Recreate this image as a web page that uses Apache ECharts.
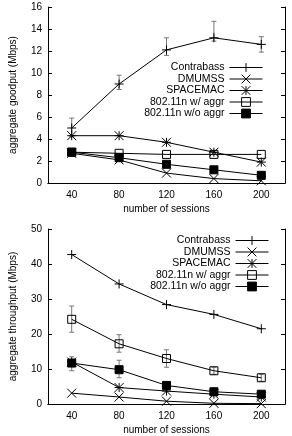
<!DOCTYPE html>
<html>
<head>
<meta charset="utf-8">
<script src="https://cdn.jsdelivr.net/npm/echarts@6/dist/echarts.min.js"></script>
<style>
  html, body { margin: 0; padding: 0; background: #fff; }
  #chart { width: 292px; height: 436px; }
</style>
</head>
<body>
<div id="chart"></div>
<script>
// sessions on the x axis
const sessions = ['40', '80', '120', '160', '200'];
const seriesNames = ['Contrabass', 'DMUMSS', 'SPACEMAC', '802.11n w/ aggr', '802.11n w/o aggr'];

// top: aggregate goodput (Mbps)
const goodContrabass = [5.0, 9.0, 12.1, 13.2, 12.6];
const goodDmumss = [2.7, 2.1, 0.9, 0.4, 0.2];
const goodSpacemac = [4.3, 4.3, 3.7, 2.8, 1.9];
const goodWithAggr = [2.8, 2.7, 2.6, 2.6, 2.6];
const goodWithoutAggr = [2.8, 2.3, 1.7, 1.2, 0.7];
const goodContrabassLow = [4.2, 8.5, 11.6, 12.9, 11.9];
const goodContrabassHigh = [5.9, 9.8, 13.2, 14.7, 13.3];

// bottom: aggregate throughput (Mbps)
const thrContrabass = [42.7, 34.3, 28.4, 25.6, 21.5];
const thrDmumss = [3.1, 2.0, 0.8, 0.2, 0.1];
const thrSpacemac = [12.0, 4.7, 3.7, 2.8, 2.0];
const thrWithAggr = [24.2, 17.2, 13.0, 9.5, 7.5];
const thrWithoutAggr = [11.7, 9.8, 5.3, 3.5, 2.8];
const thrWithAggrLow = [20.5, 14.8, 10.5, 8.5, 6.5];
const thrWithAggrHigh = [28.0, 19.8, 15.5, 10.5, 8.5];
const thrWithoutAggrLow = [9.5, 7.5, 4.5, 3.0, 2.0];
const thrWithoutAggrHigh = [13.5, 12.5, 6.0, 4.5, 3.5];

const PLUS = 'path://M0,5L10,5M5,0L5,10';
const CROSS = 'path://M0,0L10,10M10,0L0,10';
const STAR = 'path://M0,0L10,10M10,0L0,10M5,0L5,10M0,5L10,5';
const SQUARE = 'path://M0,0L10,0L10,10L0,10Z';

const font = 'Liberation Sans, Arial, sans-serif';
const markers = [
  { symbol: PLUS, size: 9, fill: 'transparent' },
  { symbol: CROSS, size: 9, fill: 'transparent' },
  { symbol: STAR, size: 9, fill: 'transparent' },
  { symbol: SQUARE, size: 8, fill: 'transparent' },
  { symbol: 'rect', size: 8, fill: '#000' }
];

function lineSeries(name, values, idx, gridIdx) {
  const m = markers[idx];
  return {
    name: name,
    type: 'line',
    xAxisIndex: gridIdx * 2,
    yAxisIndex: gridIdx * 2,
    data: values,
    symbol: m.symbol,
    symbolSize: m.size,
    showAllSymbol: true,
    lineStyle: { color: '#000', width: 1 },
    itemStyle: { color: m.fill, borderColor: '#000', borderWidth: 1 },
    emphasis: { disabled: true },
    z: 3
  };
}

function errorSeries(low, high, gridIdx) {
  return {
    type: 'custom',
    xAxisIndex: gridIdx * 2,
    yAxisIndex: gridIdx * 2,
    data: low.map((l, i) => [i, l, high[i]]),
    renderItem: function (params, api) {
      const lo = api.coord([api.value(0), api.value(1)]);
      const hi = api.coord([api.value(0), api.value(2)]);
      const c = 2.5;
      const st = { stroke: '#777', lineWidth: 1 };
      return {
        type: 'group',
        children: [
          { type: 'line', shape: { x1: lo[0], y1: lo[1], x2: hi[0], y2: hi[1] }, style: st },
          { type: 'line', shape: { x1: lo[0] - c, y1: lo[1], x2: lo[0] + c, y2: lo[1] }, style: st },
          { type: 'line', shape: { x1: hi[0] - c, y1: hi[1], x2: hi[0] + c, y2: hi[1] }, style: st }
        ]
      };
    },
    silent: true,
    z: 2
  };
}

function xAxes(gridIdx) {
  const base = {
    type: 'category',
    data: sessions,
    gridIndex: gridIdx,
    boundaryGap: true,
    axisLine: { lineStyle: { color: '#000', width: 1 } },
    axisTick: { inside: true, length: 4, alignWithLabel: true, lineStyle: { color: '#000' } },
    splitLine: { show: false }
  };
  return [
    Object.assign({}, base, {
      position: 'bottom',
      axisLabel: { color: '#000', fontSize: 10, fontFamily: font, margin: 7 },
      name: 'number of sessions',
      nameLocation: 'middle',
      nameGap: 21,
      nameTextStyle: { color: '#000', fontSize: 10, fontFamily: font }
    }),
    Object.assign({}, base, { position: 'top', axisLabel: { show: false } })
  ];
}

function yAxes(gridIdx, max, interval, name) {
  const base = {
    type: 'value',
    gridIndex: gridIdx,
    min: 0,
    max: max,
    interval: interval,
    axisLine: { show: true, lineStyle: { color: '#000', width: 1 } },
    axisTick: { show: true, inside: true, length: 4, lineStyle: { color: '#000' } },
    splitLine: { show: false }
  };
  return [
    Object.assign({}, base, {
      position: 'left',
      axisLabel: { color: '#000', fontSize: 10, fontFamily: font, margin: 6 },
      name: name,
      nameLocation: 'middle',
      nameGap: 30,
      nameTextStyle: { color: '#000', fontSize: 10, fontFamily: font }
    }),
    Object.assign({}, base, { position: 'right', axisLabel: { show: false } })
  ];
}

const legendBase = {
  orient: 'vertical',
  align: 'right',
  itemWidth: 33,
  itemHeight: 11,
  itemGap: 0.5,
  itemTextGap: 6,
  selectedMode: false,
  data: seriesNames,
  lineStyle: { width: 1, color: '#000' },
  itemStyle: { borderWidth: 1, borderColor: '#000' },
  textStyle: { color: '#000', fontSize: 10.5, fontFamily: font }
};

const option = {
  animation: false,
  backgroundColor: '#fff',
  grid: [
    { left: 43, top: 7, width: 242, height: 176 },
    { left: 43, top: 229, width: 242, height: 175 }
  ],
  legend: [
    Object.assign({}, legendBase, { right: 24, top: 57 }),
    Object.assign({}, legendBase, { right: 18, top: 230 })
  ],
  xAxis: xAxes(0).concat(xAxes(1)),
  yAxis: yAxes(0, 16, 2, 'aggregate goodput (Mbps)').concat(yAxes(1, 50, 10, 'aggregate throughput (Mbps)')),
  series: [
    errorSeries(goodContrabassLow, goodContrabassHigh, 0),
    lineSeries(seriesNames[0], goodContrabass, 0, 0),
    lineSeries(seriesNames[1], goodDmumss, 1, 0),
    lineSeries(seriesNames[2], goodSpacemac, 2, 0),
    lineSeries(seriesNames[3], goodWithAggr, 3, 0),
    lineSeries(seriesNames[4], goodWithoutAggr, 4, 0),
    errorSeries(thrWithAggrLow, thrWithAggrHigh, 1),
    errorSeries(thrWithoutAggrLow, thrWithoutAggrHigh, 1),
    lineSeries(seriesNames[0], thrContrabass, 0, 1),
    lineSeries(seriesNames[1], thrDmumss, 1, 1),
    lineSeries(seriesNames[2], thrSpacemac, 2, 1),
    lineSeries(seriesNames[3], thrWithAggr, 3, 1),
    lineSeries(seriesNames[4], thrWithoutAggr, 4, 1)
  ]
};

const chart = echarts.init(document.getElementById('chart'), null, { renderer: 'canvas' });
chart.setOption(option);
</script>
</body>
</html>
